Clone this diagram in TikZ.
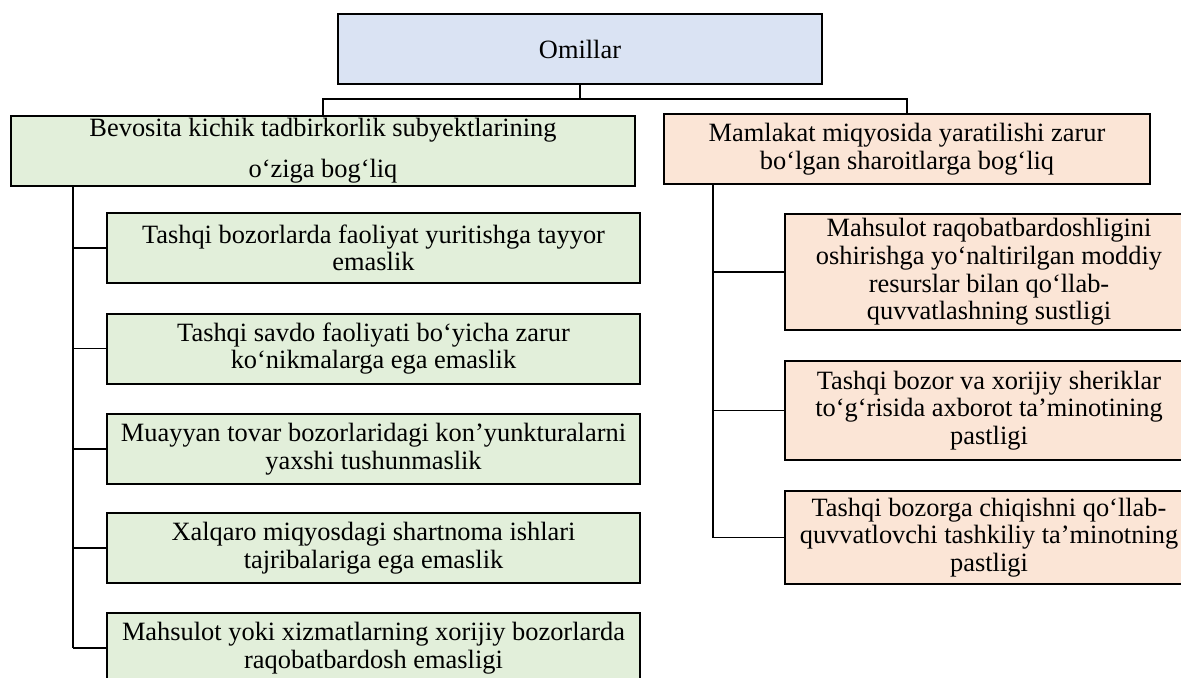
\documentclass[tikz,border=0pt]{standalone}
\usepackage{fontspec}
\setmainfont{Liberation Serif}
\definecolor{topblue}{HTML}{DAE3F3}
\definecolor{leftgreen}{HTML}{E2EFDA}
\definecolor{rightpeach}{HTML}{FBE5D6}
\tikzset{
  boxbase/.style={draw=black, line width=1pt, inner sep=0pt, align=center,
    font=\fontsize{13.2}{13.8}\selectfont},
  topbox/.style={boxbase, fill=topblue, minimum width=242pt, minimum height=35pt},
  leftmain/.style={boxbase, fill=leftgreen, minimum width=312pt, minimum height=35pt,
    font=\fontsize{13.2}{20.5}\selectfont},
  rightmain/.style={boxbase, fill=rightpeach, minimum width=243pt, minimum height=35pt,
    font=\fontsize{13.2}{14.3}\selectfont},
  leftkid/.style={boxbase, fill=leftgreen, minimum width=266.5pt, minimum height=35pt},
  rightkid/.style={boxbase, fill=rightpeach, minimum width=204pt},
  link/.style={draw=black, line width=0.8pt},
  trunk/.style={draw=black, line width=1.1pt}
}
\begin{document}
\begin{tikzpicture}[x=0.5pt, y=-0.5pt]
\clip (0,0) rectangle (1181,678);
\fill[white] (0,0) rectangle (1181,678);
% top
\node[topbox] (O) at (580,49) {Omillar};
% main branches
\node[leftmain] (L) at (323,151) {Bevosita kichik tadbirkorlik subyektlarining\\o‘ziga bog‘liq};
\node[rightmain] (R) at (907,149) {Mamlakat miqyosida yaratilishi zarur\\bo‘lgan sharoitlarga bog‘liq};
\coordinate (bus) at (580,99);
\draw[link] (O.south) -- (O.south |- bus);
\draw[link] (L.north) -- (L.north |- bus) -- (R.north |- bus) -- (R.north);
% left children
\node[leftkid] (l1) at (373.5,248) {Tashqi bozorlarda faoliyat yuritishga tayyor\\emaslik};
\node[leftkid] (l2) at (373.5,348.5) {Tashqi savdo faoliyati bo‘yicha zarur\\ko‘nikmalarga ega emaslik};
\node[leftkid] (l3) at (373.5,449) {Muayyan tovar bozorlaridagi kon’yunkturalarni\\yaxshi tushunmaslik};
\node[leftkid] (l4) at (373.5,548) {Xalqaro miqyosdagi shartnoma ishlari\\tajribalariga ega emaslik};
\node[leftkid] (l5) at (373.5,648) {Mahsulot yoki xizmatlarning xorijiy bozorlarda\\raqobatbardosh emasligi};
\coordinate (lx) at (73,184);
\draw[trunk] (lx |- L.south) -- (lx |- l5.west);
\foreach \k in {l1,l2,l3,l4,l5}{
  \draw[link] (lx |- \k.west) -- (\k.west);
}
% right children
\node[rightkid, minimum height=58pt] (r1) at (989,272) {Mahsulot raqobatbardoshligini\\oshirishga yo‘naltirilgan moddiy\\resurslar bilan qo‘llab-\\quvvatlashning sustligi};
\node[rightkid, minimum height=49.5pt] (r2) at (989,410.5) {Tashqi bozor va xorijiy sheriklar\\to‘g‘risida axborot ta’minotining\\pastligi};
\node[rightkid, minimum height=46.5pt] (r3) at (989,537.5) {Tashqi bozorga chiqishni qo‘llab-\\quvvatlovchi tashkiliy ta’minotning\\pastligi};
\coordinate (rx) at (713,184);
\draw[link] (rx |- R.south) -- (rx |- r3.west);
\foreach \k in {r1,r2,r3}{
  \draw[link] (rx |- \k.west) -- (\k.west);
}
\end{tikzpicture}
\end{document}
